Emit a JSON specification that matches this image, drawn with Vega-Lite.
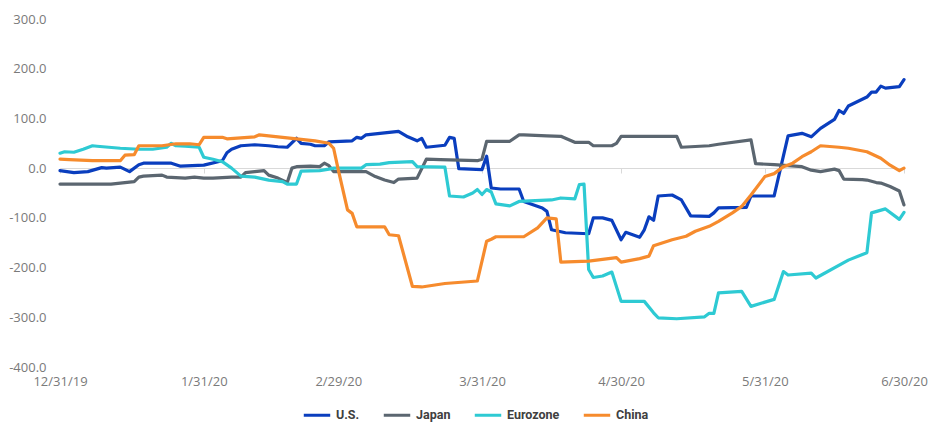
{
  "$schema": "https://vega.github.io/schema/vega-lite/v6.json",
  "width": 844,
  "height": 348,
  "autosize": {"type": "none"},
  "padding": {"left": 60, "top": 19, "right": 24, "bottom": 60},
  "background": "#ffffff",
  "config": {
    "view": {"stroke": null},
    "locale": {"number": {"decimal": ".", "thousands": ",", "grouping": [3], "currency": ["$", ""], "minus": "-"}}
  },
  "data": {"values": [
    {"date":"2019/12/31","series":"U.S.","value":-5},
    {"date":"2020/01/03","series":"U.S.","value":-9},
    {"date":"2020/01/06","series":"U.S.","value":-7},
    {"date":"2020/01/09","series":"U.S.","value":1},
    {"date":"2020/01/10","series":"U.S.","value":0},
    {"date":"2020/01/13","series":"U.S.","value":2},
    {"date":"2020/01/15","series":"U.S.","value":-7},
    {"date":"2020/01/17","series":"U.S.","value":7},
    {"date":"2020/01/18","series":"U.S.","value":10},
    {"date":"2020/01/24","series":"U.S.","value":10},
    {"date":"2020/01/26","series":"U.S.","value":4},
    {"date":"2020/01/31","series":"U.S.","value":6},
    {"date":"2020/02/04","series":"U.S.","value":15},
    {"date":"2020/02/05","series":"U.S.","value":31},
    {"date":"2020/02/06","series":"U.S.","value":38},
    {"date":"2020/02/08","series":"U.S.","value":45},
    {"date":"2020/02/11","series":"U.S.","value":47},
    {"date":"2020/02/14","series":"U.S.","value":45},
    {"date":"2020/02/16","series":"U.S.","value":43},
    {"date":"2020/02/18","series":"U.S.","value":42},
    {"date":"2020/02/20","series":"U.S.","value":60},
    {"date":"2020/02/21","series":"U.S.","value":50},
    {"date":"2020/02/23","series":"U.S.","value":48},
    {"date":"2020/02/24","series":"U.S.","value":45},
    {"date":"2020/02/26","series":"U.S.","value":45},
    {"date":"2020/02/27","series":"U.S.","value":53},
    {"date":"2020/03/03","series":"U.S.","value":55},
    {"date":"2020/03/04","series":"U.S.","value":62},
    {"date":"2020/03/05","series":"U.S.","value":60},
    {"date":"2020/03/06","series":"U.S.","value":67},
    {"date":"2020/03/09","series":"U.S.","value":70},
    {"date":"2020/03/13","series":"U.S.","value":74},
    {"date":"2020/03/15","series":"U.S.","value":63},
    {"date":"2020/03/17","series":"U.S.","value":55},
    {"date":"2020/03/18","series":"U.S.","value":60},
    {"date":"2020/03/19","series":"U.S.","value":42},
    {"date":"2020/03/23","series":"U.S.","value":46},
    {"date":"2020/03/24","series":"U.S.","value":62},
    {"date":"2020/03/25","series":"U.S.","value":60},
    {"date":"2020/03/26","series":"U.S.","value":-1},
    {"date":"2020/03/31","series":"U.S.","value":-3},
    {"date":"2020/04/01","series":"U.S.","value":24},
    {"date":"2020/04/02","series":"U.S.","value":-40},
    {"date":"2020/04/04","series":"U.S.","value":-42},
    {"date":"2020/04/08","series":"U.S.","value":-42},
    {"date":"2020/04/09","series":"U.S.","value":-67},
    {"date":"2020/04/13","series":"U.S.","value":-80},
    {"date":"2020/04/14","series":"U.S.","value":-87},
    {"date":"2020/04/15","series":"U.S.","value":-124},
    {"date":"2020/04/18","series":"U.S.","value":-130},
    {"date":"2020/04/23","series":"U.S.","value":-132},
    {"date":"2020/04/24","series":"U.S.","value":-100},
    {"date":"2020/04/26","series":"U.S.","value":-100},
    {"date":"2020/04/28","series":"U.S.","value":-105},
    {"date":"2020/04/30","series":"U.S.","value":-144},
    {"date":"2020/05/01","series":"U.S.","value":-129},
    {"date":"2020/05/04","series":"U.S.","value":-139},
    {"date":"2020/05/05","series":"U.S.","value":-124},
    {"date":"2020/05/06","series":"U.S.","value":-98},
    {"date":"2020/05/07","series":"U.S.","value":-105},
    {"date":"2020/05/08","series":"U.S.","value":-56},
    {"date":"2020/05/11","series":"U.S.","value":-54},
    {"date":"2020/05/13","series":"U.S.","value":-64},
    {"date":"2020/05/15","series":"U.S.","value":-96},
    {"date":"2020/05/19","series":"U.S.","value":-97},
    {"date":"2020/05/20","series":"U.S.","value":-90},
    {"date":"2020/05/21","series":"U.S.","value":-80},
    {"date":"2020/05/27","series":"U.S.","value":-79},
    {"date":"2020/05/28","series":"U.S.","value":-56},
    {"date":"2020/06/02","series":"U.S.","value":-56},
    {"date":"2020/06/05","series":"U.S.","value":65},
    {"date":"2020/06/08","series":"U.S.","value":70},
    {"date":"2020/06/10","series":"U.S.","value":63},
    {"date":"2020/06/12","series":"U.S.","value":80},
    {"date":"2020/06/15","series":"U.S.","value":98},
    {"date":"2020/06/16","series":"U.S.","value":116},
    {"date":"2020/06/17","series":"U.S.","value":110},
    {"date":"2020/06/18","series":"U.S.","value":125},
    {"date":"2020/06/22","series":"U.S.","value":143},
    {"date":"2020/06/23","series":"U.S.","value":153},
    {"date":"2020/06/24","series":"U.S.","value":153},
    {"date":"2020/06/25","series":"U.S.","value":165},
    {"date":"2020/06/26","series":"U.S.","value":161},
    {"date":"2020/06/29","series":"U.S.","value":164},
    {"date":"2020/06/30","series":"U.S.","value":178},

    {"date":"2019/12/31","series":"Japan","value":-32},
    {"date":"2020/01/11","series":"Japan","value":-32},
    {"date":"2020/01/14","series":"Japan","value":-29},
    {"date":"2020/01/16","series":"Japan","value":-27},
    {"date":"2020/01/17","series":"Japan","value":-18},
    {"date":"2020/01/18","series":"Japan","value":-16},
    {"date":"2020/01/22","series":"Japan","value":-14},
    {"date":"2020/01/23","series":"Japan","value":-18},
    {"date":"2020/01/27","series":"Japan","value":-20},
    {"date":"2020/01/29","series":"Japan","value":-18},
    {"date":"2020/01/31","series":"Japan","value":-20},
    {"date":"2020/02/02","series":"Japan","value":-20},
    {"date":"2020/02/06","series":"Japan","value":-18},
    {"date":"2020/02/08","series":"Japan","value":-18},
    {"date":"2020/02/09","series":"Japan","value":-9},
    {"date":"2020/02/11","series":"Japan","value":-7},
    {"date":"2020/02/13","series":"Japan","value":-5},
    {"date":"2020/02/14","series":"Japan","value":-14},
    {"date":"2020/02/16","series":"Japan","value":-20},
    {"date":"2020/02/18","series":"Japan","value":-29},
    {"date":"2020/02/19","series":"Japan","value":0},
    {"date":"2020/02/20","series":"Japan","value":3},
    {"date":"2020/02/23","series":"Japan","value":4},
    {"date":"2020/02/25","series":"Japan","value":3},
    {"date":"2020/02/26","series":"Japan","value":10},
    {"date":"2020/02/27","series":"Japan","value":5},
    {"date":"2020/02/28","series":"Japan","value":-7},
    {"date":"2020/03/06","series":"Japan","value":-7},
    {"date":"2020/03/08","series":"Japan","value":-17},
    {"date":"2020/03/10","series":"Japan","value":-24},
    {"date":"2020/03/12","series":"Japan","value":-29},
    {"date":"2020/03/13","series":"Japan","value":-22},
    {"date":"2020/03/17","series":"Japan","value":-20},
    {"date":"2020/03/19","series":"Japan","value":18},
    {"date":"2020/03/22","series":"Japan","value":17},
    {"date":"2020/03/30","series":"Japan","value":15},
    {"date":"2020/03/31","series":"Japan","value":18},
    {"date":"2020/04/01","series":"Japan","value":54},
    {"date":"2020/04/06","series":"Japan","value":54},
    {"date":"2020/04/08","series":"Japan","value":67},
    {"date":"2020/04/09","series":"Japan","value":67},
    {"date":"2020/04/14","series":"Japan","value":65},
    {"date":"2020/04/17","series":"Japan","value":64},
    {"date":"2020/04/20","series":"Japan","value":52},
    {"date":"2020/04/23","series":"Japan","value":52},
    {"date":"2020/04/24","series":"Japan","value":45},
    {"date":"2020/04/28","series":"Japan","value":45},
    {"date":"2020/04/29","series":"Japan","value":50},
    {"date":"2020/04/30","series":"Japan","value":64},
    {"date":"2020/05/12","series":"Japan","value":64},
    {"date":"2020/05/13","series":"Japan","value":42},
    {"date":"2020/05/19","series":"Japan","value":45},
    {"date":"2020/05/21","series":"Japan","value":48},
    {"date":"2020/05/28","series":"Japan","value":57},
    {"date":"2020/05/29","series":"Japan","value":9},
    {"date":"2020/06/02","series":"Japan","value":7},
    {"date":"2020/06/05","series":"Japan","value":5},
    {"date":"2020/06/08","series":"Japan","value":3},
    {"date":"2020/06/10","series":"Japan","value":-4},
    {"date":"2020/06/12","series":"Japan","value":-7},
    {"date":"2020/06/15","series":"Japan","value":-2},
    {"date":"2020/06/16","series":"Japan","value":-5},
    {"date":"2020/06/17","series":"Japan","value":-22},
    {"date":"2020/06/21","series":"Japan","value":-23},
    {"date":"2020/06/22","series":"Japan","value":-24},
    {"date":"2020/06/24","series":"Japan","value":-29},
    {"date":"2020/06/25","series":"Japan","value":-30},
    {"date":"2020/06/27","series":"Japan","value":-37},
    {"date":"2020/06/29","series":"Japan","value":-46},
    {"date":"2020/06/30","series":"Japan","value":-74},

    {"date":"2019/12/31","series":"Eurozone","value":30},
    {"date":"2020/01/01","series":"Eurozone","value":33},
    {"date":"2020/01/03","series":"Eurozone","value":32},
    {"date":"2020/01/05","series":"Eurozone","value":38},
    {"date":"2020/01/07","series":"Eurozone","value":45},
    {"date":"2020/01/08","series":"Eurozone","value":44},
    {"date":"2020/01/13","series":"Eurozone","value":40},
    {"date":"2020/01/17","series":"Eurozone","value":38},
    {"date":"2020/01/20","series":"Eurozone","value":38},
    {"date":"2020/01/23","series":"Eurozone","value":42},
    {"date":"2020/01/24","series":"Eurozone","value":50},
    {"date":"2020/01/25","series":"Eurozone","value":45},
    {"date":"2020/01/27","series":"Eurozone","value":44},
    {"date":"2020/01/30","series":"Eurozone","value":42},
    {"date":"2020/01/31","series":"Eurozone","value":22},
    {"date":"2020/02/02","series":"Eurozone","value":18},
    {"date":"2020/02/04","series":"Eurozone","value":13},
    {"date":"2020/02/06","series":"Eurozone","value":0},
    {"date":"2020/02/08","series":"Eurozone","value":-16},
    {"date":"2020/02/11","series":"Eurozone","value":-18},
    {"date":"2020/02/14","series":"Eurozone","value":-24},
    {"date":"2020/02/17","series":"Eurozone","value":-27},
    {"date":"2020/02/18","series":"Eurozone","value":-32},
    {"date":"2020/02/20","series":"Eurozone","value":-32},
    {"date":"2020/02/21","series":"Eurozone","value":-6},
    {"date":"2020/02/25","series":"Eurozone","value":-5},
    {"date":"2020/02/27","series":"Eurozone","value":-2},
    {"date":"2020/02/28","series":"Eurozone","value":0},
    {"date":"2020/03/05","series":"Eurozone","value":0},
    {"date":"2020/03/06","series":"Eurozone","value":7},
    {"date":"2020/03/09","series":"Eurozone","value":8},
    {"date":"2020/03/11","series":"Eurozone","value":11},
    {"date":"2020/03/16","series":"Eurozone","value":13},
    {"date":"2020/03/17","series":"Eurozone","value":3},
    {"date":"2020/03/23","series":"Eurozone","value":2},
    {"date":"2020/03/24","series":"Eurozone","value":-56},
    {"date":"2020/03/27","series":"Eurozone","value":-58},
    {"date":"2020/03/29","series":"Eurozone","value":-50},
    {"date":"2020/03/30","series":"Eurozone","value":-43},
    {"date":"2020/03/31","series":"Eurozone","value":-53},
    {"date":"2020/04/01","series":"Eurozone","value":-43},
    {"date":"2020/04/02","series":"Eurozone","value":-48},
    {"date":"2020/04/03","series":"Eurozone","value":-72},
    {"date":"2020/04/06","series":"Eurozone","value":-76},
    {"date":"2020/04/08","series":"Eurozone","value":-67},
    {"date":"2020/04/15","series":"Eurozone","value":-64},
    {"date":"2020/04/17","series":"Eurozone","value":-60},
    {"date":"2020/04/20","series":"Eurozone","value":-62},
    {"date":"2020/04/21","series":"Eurozone","value":-33},
    {"date":"2020/04/22","series":"Eurozone","value":-32},
    {"date":"2020/04/23","series":"Eurozone","value":-204},
    {"date":"2020/04/24","series":"Eurozone","value":-220},
    {"date":"2020/04/26","series":"Eurozone","value":-217},
    {"date":"2020/04/28","series":"Eurozone","value":-209},
    {"date":"2020/04/30","series":"Eurozone","value":-268},
    {"date":"2020/05/05","series":"Eurozone","value":-268},
    {"date":"2020/05/07","series":"Eurozone","value":-291},
    {"date":"2020/05/08","series":"Eurozone","value":-301},
    {"date":"2020/05/12","series":"Eurozone","value":-303},
    {"date":"2020/05/18","series":"Eurozone","value":-299},
    {"date":"2020/05/19","series":"Eurozone","value":-292},
    {"date":"2020/05/20","series":"Eurozone","value":-292},
    {"date":"2020/05/21","series":"Eurozone","value":-251},
    {"date":"2020/05/26","series":"Eurozone","value":-248},
    {"date":"2020/05/28","series":"Eurozone","value":-278},
    {"date":"2020/06/02","series":"Eurozone","value":-264},
    {"date":"2020/06/04","series":"Eurozone","value":-208},
    {"date":"2020/06/05","series":"Eurozone","value":-215},
    {"date":"2020/06/10","series":"Eurozone","value":-211},
    {"date":"2020/06/11","series":"Eurozone","value":-221},
    {"date":"2020/06/18","series":"Eurozone","value":-185},
    {"date":"2020/06/22","series":"Eurozone","value":-170},
    {"date":"2020/06/23","series":"Eurozone","value":-90},
    {"date":"2020/06/26","series":"Eurozone","value":-82},
    {"date":"2020/06/29","series":"Eurozone","value":-103},
    {"date":"2020/06/30","series":"Eurozone","value":-89},

    {"date":"2019/12/31","series":"China","value":18},
    {"date":"2020/01/02","series":"China","value":17},
    {"date":"2020/01/07","series":"China","value":15},
    {"date":"2020/01/13","series":"China","value":15},
    {"date":"2020/01/14","series":"China","value":26},
    {"date":"2020/01/16","series":"China","value":27},
    {"date":"2020/01/17","series":"China","value":45},
    {"date":"2020/01/22","series":"China","value":45},
    {"date":"2020/01/25","series":"China","value":49},
    {"date":"2020/01/28","series":"China","value":49},
    {"date":"2020/01/30","series":"China","value":47},
    {"date":"2020/01/31","series":"China","value":62},
    {"date":"2020/02/04","series":"China","value":62},
    {"date":"2020/02/05","series":"China","value":59},
    {"date":"2020/02/11","series":"China","value":63},
    {"date":"2020/02/12","series":"China","value":67},
    {"date":"2020/02/14","series":"China","value":65},
    {"date":"2020/02/19","series":"China","value":60},
    {"date":"2020/02/24","series":"China","value":55},
    {"date":"2020/02/27","series":"China","value":50},
    {"date":"2020/02/28","series":"China","value":40},
    {"date":"2020/02/29","series":"China","value":-3},
    {"date":"2020/03/02","series":"China","value":-84},
    {"date":"2020/03/03","series":"China","value":-91},
    {"date":"2020/03/04","series":"China","value":-118},
    {"date":"2020/03/10","series":"China","value":-118},
    {"date":"2020/03/11","series":"China","value":-134},
    {"date":"2020/03/13","series":"China","value":-136},
    {"date":"2020/03/16","series":"China","value":-238},
    {"date":"2020/03/18","series":"China","value":-239},
    {"date":"2020/03/23","series":"China","value":-232},
    {"date":"2020/03/30","series":"China","value":-227},
    {"date":"2020/04/01","series":"China","value":-147},
    {"date":"2020/04/02","series":"China","value":-143},
    {"date":"2020/04/03","series":"China","value":-138},
    {"date":"2020/04/09","series":"China","value":-138},
    {"date":"2020/04/12","series":"China","value":-120},
    {"date":"2020/04/14","series":"China","value":-100},
    {"date":"2020/04/16","series":"China","value":-102},
    {"date":"2020/04/17","series":"China","value":-189},
    {"date":"2020/04/23","series":"China","value":-187},
    {"date":"2020/04/29","series":"China","value":-180},
    {"date":"2020/04/30","series":"China","value":-189},
    {"date":"2020/05/04","series":"China","value":-182},
    {"date":"2020/05/06","series":"China","value":-177},
    {"date":"2020/05/07","series":"China","value":-156},
    {"date":"2020/05/11","series":"China","value":-144},
    {"date":"2020/05/14","series":"China","value":-137},
    {"date":"2020/05/16","series":"China","value":-127},
    {"date":"2020/05/19","series":"China","value":-117},
    {"date":"2020/05/21","series":"China","value":-107},
    {"date":"2020/05/24","series":"China","value":-90},
    {"date":"2020/05/26","series":"China","value":-77},
    {"date":"2020/05/28","series":"China","value":-54},
    {"date":"2020/05/31","series":"China","value":-17},
    {"date":"2020/06/02","series":"China","value":-11},
    {"date":"2020/06/04","series":"China","value":3},
    {"date":"2020/06/06","series":"China","value":10},
    {"date":"2020/06/08","series":"China","value":23},
    {"date":"2020/06/10","series":"China","value":33},
    {"date":"2020/06/12","series":"China","value":45},
    {"date":"2020/06/16","series":"China","value":42},
    {"date":"2020/06/18","series":"China","value":40},
    {"date":"2020/06/22","series":"China","value":33},
    {"date":"2020/06/25","series":"China","value":20},
    {"date":"2020/06/27","series":"China","value":6},
    {"date":"2020/06/29","series":"China","value":-5},
    {"date":"2020/06/30","series":"China","value":0}
  ]},
  "mark": {"type": "line", "strokeWidth": 3.2, "strokeJoin": "round", "strokeCap": "round"},
  "encoding": {
    "x": {
      "field": "date",
      "type": "temporal",
      "scale": {
        "domain": [{"year": 2019, "month": 12, "date": 31}, {"year": 2020, "month": 6, "date": 30}],
        "nice": false
      },
      "axis": {
        "title": null,
        "values": [
          {"year": 2019, "month": 12, "date": 31},
          {"year": 2020, "month": 1, "date": 31},
          {"year": 2020, "month": 2, "date": 29},
          {"year": 2020, "month": 3, "date": 31},
          {"year": 2020, "month": 4, "date": 30},
          {"year": 2020, "month": 5, "date": 31},
          {"year": 2020, "month": 6, "date": 30}
        ],
        "format": "%-m/%-d/%y",
        "offset": -199,
        "domain": true,
        "domainColor": "#d9d9d9",
        "domainWidth": 1,
        "ticks": true,
        "tickColor": "#d9d9d9",
        "tickSize": 5,
        "labelPadding": 202,
        "labelFlush": false,
        "labelOverlap": false,
        "labelBound": false,
        "labelFont": "Open Sans",
        "labelFontSize": 13,
        "labelColor": "#7a7a7a",
        "grid": false
      }
    },
    "y": {
      "field": "value",
      "type": "quantitative",
      "scale": {"domain": [-400, 300], "nice": false, "zero": false},
      "axis": {
        "title": null,
        "values": [-400, -300, -200, -100, 0, 100, 200, 300],
        "format": ".1f",
        "domain": false,
        "ticks": false,
        "grid": false,
        "labelPadding": 14,
        "labelFont": "Open Sans",
        "labelFontSize": 13,
        "labelColor": "#7a7a7a"
      }
    },
    "color": {
      "field": "series",
      "type": "nominal",
      "sort": null,
      "scale": {
        "domain": ["U.S.", "Japan", "Eurozone", "China"],
        "range": ["#0A3EBE", "#5B6670", "#2ECAD3", "#F68B2D"]
      },
      "legend": {
        "title": null,
        "orient": "none",
        "direction": "horizontal",
        "legendX": 242,
        "legendY": 381,
        "padding": 0,
        "symbolType": "stroke",
        "symbolSize": 700,
        "symbolStrokeWidth": 3,
        "labelOffset": 4,
        "columnPadding": 17,
        "labelFont": "Roboto, sans-serif",
        "labelFontWeight": "bold",
        "labelFontSize": 12.5,
        "labelColor": "#404040"
      }
    }
  }
}
